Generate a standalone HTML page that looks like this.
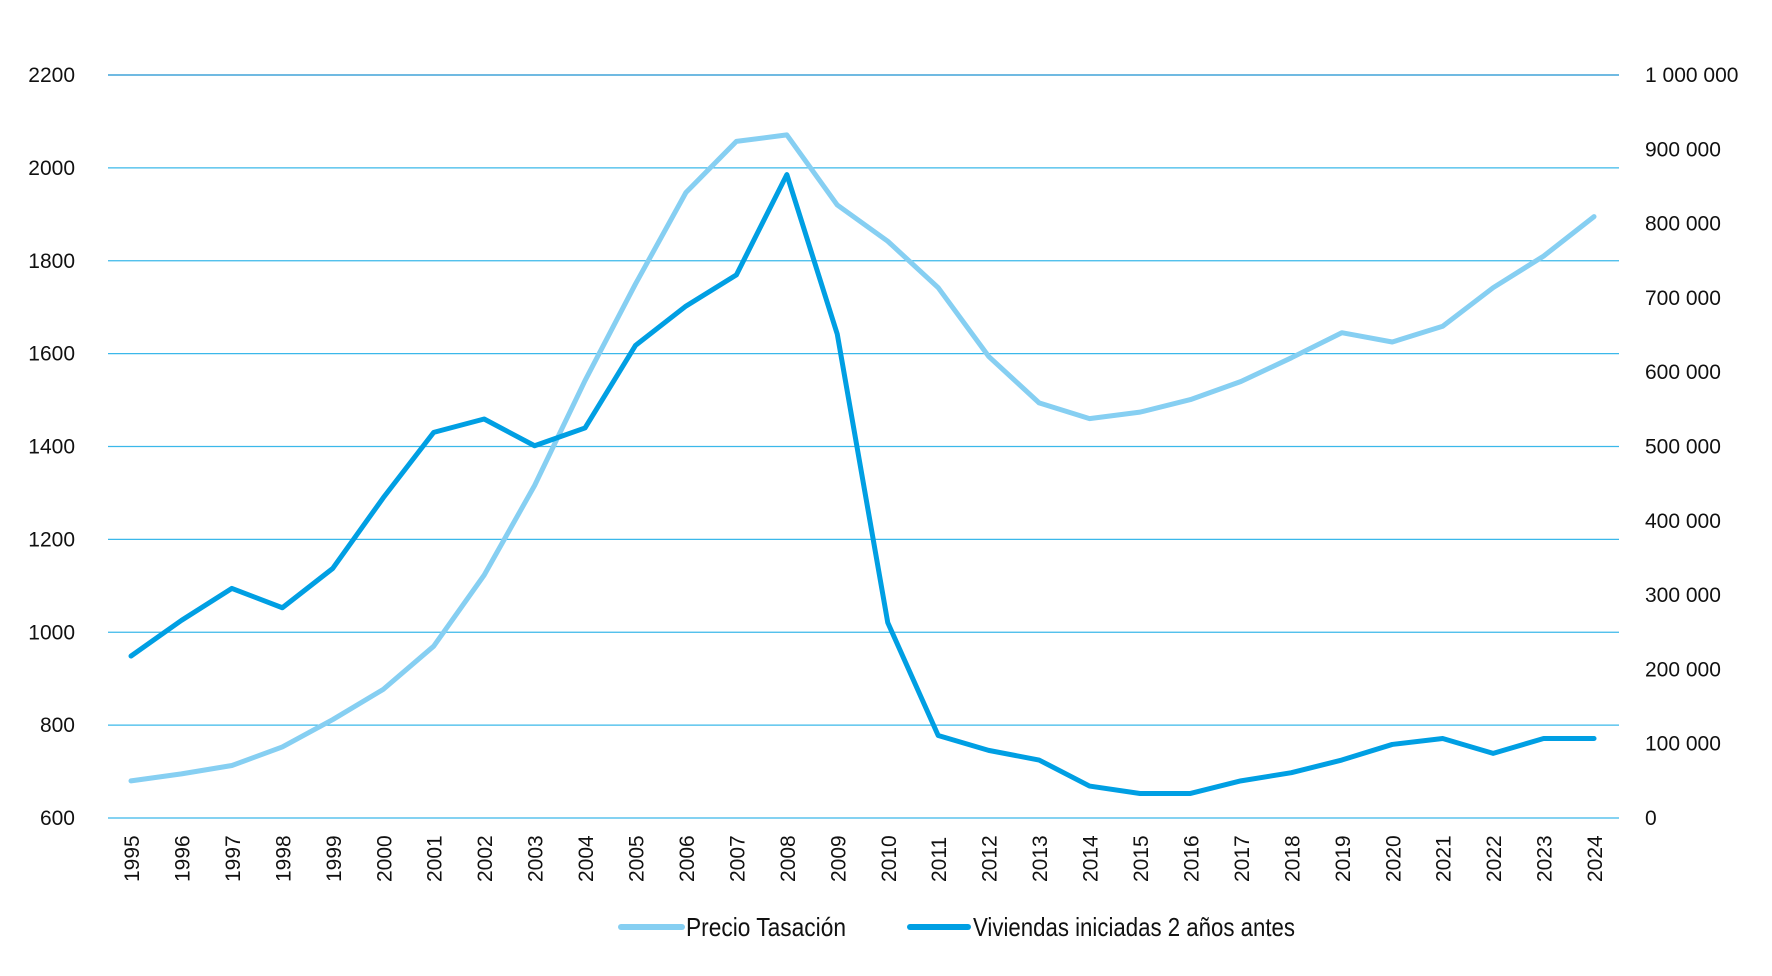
<!DOCTYPE html>
<html><head><meta charset="utf-8"><style>
html,body{margin:0;padding:0;background:#fff;}
svg text{font-family:"Liberation Sans",sans-serif;fill:#111;}
</style></head><body>
<svg id="c" width="1772" height="971" xmlns="http://www.w3.org/2000/svg"></svg>
<script>
const s=document.getElementById('c');
let h='';
const yTop=75,yBot=818,x0=108,x1=1619;
const yl=v=>yBot-(v-600)/1600*(yBot-yTop);
const yr=v=>yBot-v/1000000*(yBot-yTop);
const xp=i=>131+i*50.45;
for(let k=0;k<=8;k++){
  const v=600+k*200,y=yl(v);
  h+=`<line x1="${x0}" x2="${x1}" y1="${y}" y2="${y}" stroke="${k==8?'#1a90d0':'#3bb8ea'}" stroke-width="1.3"/>`;
  h+=`<text x="75" y="${y+7}" font-size="21" text-anchor="end">${v}</text>`;
}
const rl=['0','100 000','200 000','300 000','400 000','500 000','600 000','700 000','800 000','900 000','1 000 000'];
for(let k=0;k<=10;k++){
  const y=yr(k*100000);
  h+=`<text x="1645" y="${y+7}" font-size="21">${rl[k]}</text>`;
}
for(let i=0;i<30;i++){
  const x=xp(i);
  h+=`<text transform="translate(${x+8},882) rotate(-90)" font-size="21">${1995+i}</text>`;
}
const P=[680,695,713,753,812,877,970,1123,1316,1542,1750,1947,2057,2071,1920,1842,1742,1594,1494,1460,1474,1501,1540,1591,1645,1625,1659,1742,1810,1895];
const V=[218,266,309,283,336,431,519,537,501,525,636,689,731,866,651,263,111,91,78,43,33,33,50,61,78,99,107,87,107,107];
h+=`<polyline fill="none" stroke="#86cff2" stroke-width="5" stroke-linejoin="round" stroke-linecap="round" points="${P.map((v,i)=>xp(i)+','+yl(v)).join(' ')}"/>`;
h+=`<polyline fill="none" stroke="#009fe3" stroke-width="5" stroke-linejoin="round" stroke-linecap="round" points="${V.map((v,i)=>xp(i)+','+yr(v*1000)).join(' ')}"/>`;
h+=`<line x1="621" x2="682" y1="927" y2="927" stroke="#86cff2" stroke-width="6" stroke-linecap="round"/>`;
h+=`<text x="686" y="936" font-size="26" textLength="160" lengthAdjust="spacingAndGlyphs">Precio Tasación</text>`;
h+=`<line x1="910" x2="968" y1="927" y2="927" stroke="#009fe3" stroke-width="6" stroke-linecap="round"/>`;
h+=`<text x="973" y="936" font-size="26" textLength="322" lengthAdjust="spacingAndGlyphs">Viviendas iniciadas 2 años antes</text>`;
s.innerHTML=h;
</script>
</body></html>
